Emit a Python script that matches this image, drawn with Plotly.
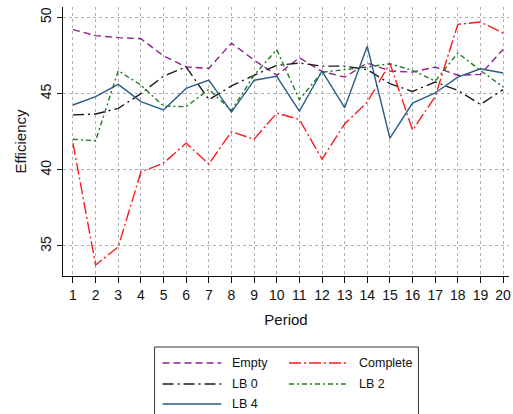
import plotly.graph_objects as go

# Mean efficiency by period for each treatment
periods = list(range(1, 21))
empty = [49.2, 48.8, 48.67, 48.6, 47.47, 46.75, 46.65, 48.31, 47.2, 46.2,
         47.35, 46.45, 46.08, 47.0, 46.48, 46.41, 46.74, 46.2, 46.26, 47.9]
complete = [41.75, 33.75, 34.95, 39.85, 40.44, 41.75, 40.37, 42.5, 42.0, 43.72,
            43.3, 40.7, 43.0, 44.44, 46.99, 42.6, 44.8, 49.54, 49.69, 48.97]
lb0 = [43.6, 43.66, 44.03, 45.0, 46.14, 46.75, 44.6, 45.5, 46.2, 46.85,
       47.0, 46.8, 46.8, 46.57, 45.65, 45.14, 45.76, 45.21, 44.29, 45.26]
lb2 = [42.0, 41.9, 46.5, 45.56, 44.18, 44.14, 45.27, 43.9, 46.2, 47.88,
       44.6, 46.4, 46.57, 46.74, 46.96, 46.52, 45.82, 47.66, 46.52, 45.43]
lb4 = [44.25, 44.8, 45.6, 44.47, 43.92, 45.34, 45.88, 43.78, 45.87, 46.13,
       43.85, 46.48, 44.07, 48.1, 42.07, 44.38, 45.04, 46.08, 46.63, 46.35]

series = [
    ("Empty", empty, "#8e1f8e", "7px,4px"),
    ("Complete", complete, "#ff1a1a", "12px,3px,2px,3px"),
    ("LB 0", lb0, "#1a1a1a", "11px,4px,2px,4px"),
    ("LB 2", lb2, "#1f7a1f", "5px,3px,2px,3px"),
    ("LB 4", lb4, "#2b5c86", "solid"),
]

FONT = "Liberation Sans, Arial, sans-serif"

fig = go.Figure()
for name, vals, color, dash in series:
    fig.add_trace(go.Scatter(
        x=periods, y=vals, mode="lines", name=name,
        line=dict(color=color, width=1.4, dash=dash),
        showlegend=False,
    ))

# Legend drawn as a boxed two-column key below the plot
L, T, W, H = 63, 7, 448, 269


def px_x(px):
    return (px - L) / W


def px_y(py):
    return (T + H - py) / H


shapes = [dict(type="rect", xref="paper", yref="paper",
               x0=px_x(155), x1=px_x(420), y0=px_y(347), y1=px_y(430),
               line=dict(color="#333333", width=1), fillcolor="white", layer="below")]
annotations = []
slots = [(163, 363), (290, 363), (163, 384), (290, 384), (163, 404)]
for (name, vals, color, dash), (lx, ly) in zip(series, slots):
    shapes.append(dict(type="line", xref="paper", yref="paper",
                       x0=px_x(lx), x1=px_x(lx + 59), y0=px_y(ly), y1=px_y(ly),
                       line=dict(color=color, width=1.4, dash=dash)))
    annotations.append(dict(xref="paper", yref="paper", x=px_x(lx + 68), y=px_y(ly),
                            text=name, showarrow=False, xanchor="left", yanchor="middle",
                            font=dict(family=FONT, size=12.5, color="#111111")))

fig.update_layout(
    width=513, height=414,
    margin=dict(l=L, r=513 - L - W, t=T, b=414 - T - H),
    paper_bgcolor="white", plot_bgcolor="white",
    font=dict(family=FONT, size=14, color="#111111"),
    shapes=shapes, annotations=annotations,
)
fig.update_xaxes(
    range=[0.56, 20.26], tickmode="array", tickvals=periods,
    ticks="outside", ticklen=6, tickcolor="#111111",
    ticklabeloverflow="allow",
    showline=True, linecolor="#111111", linewidth=1,
    showgrid=True, gridcolor="#b0b0b0", griddash="dot", gridwidth=1,
    zeroline=False,
    tickfont=dict(size=14),
    title=dict(text="Period", font=dict(size=15), standoff=12),
)
fig.update_yaxes(
    range=[33.03, 50.68], tickvals=[35, 40, 45, 50],
    ticks="outside", ticklen=5, tickcolor="#111111", tickangle=-90,
    showline=True, linecolor="#111111", linewidth=1,
    showgrid=True, gridcolor="#b0b0b0", griddash="dot", gridwidth=1,
    zeroline=False,
    tickfont=dict(size=14),
    title=dict(text="Efficiency", font=dict(size=15), standoff=8),
)

fig.write_html("out.html")
